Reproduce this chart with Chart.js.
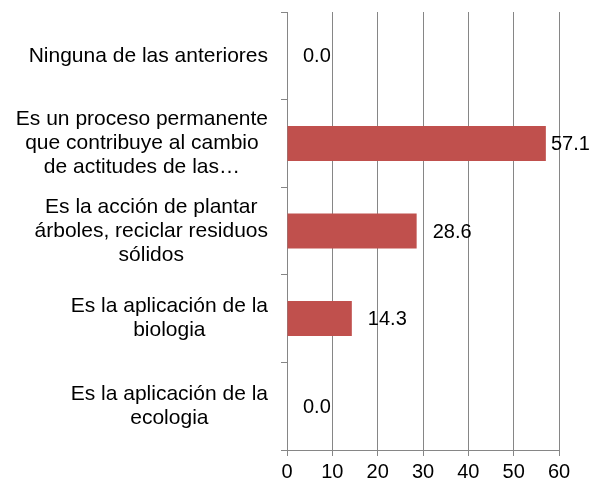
<!DOCTYPE html>
<html>
<head>
<meta charset="utf-8">
<script src="https://cdn.jsdelivr.net/npm/chart.js@4/dist/chart.umd.min.js"></script>
<style>
  html, body { margin: 0; padding: 0; background: #fff; }
  #wrap { width: 592px; height: 483px; }
</style>
</head>
<body>
<div id="wrap"><canvas id="chart"></canvas></div>
<script>
// Categories, top to bottom (wrapped as in the picture)
const categories = [
    ['Ninguna de las anteriores'],
    ['Es un proceso permanente', 'que contribuye al cambio', 'de actitudes de las…'],
    ['Es la acción de plantar', 'árboles, reciclar residuos', 'sólidos'],
    ['Es la aplicación de la', 'biologia'],
    ['Es la aplicación de la', 'ecologia']
];
const values = [0.0, 57.1, 28.6, 14.3, 0.0];
const xMin = 0;
const xMax = 60;
const xStep = 10;

const FONT = "'Liberation Sans', Arial, sans-serif";

// Draw the value labels next to each bar
const valueLabels = {
    id: 'valueLabels',
    afterDatasetsDraw(chart) {
        const ctx = chart.ctx;
        const meta = chart.getDatasetMeta(0);
        ctx.save();
        ctx.font = '20px ' + FONT;
        ctx.fillStyle = '#000';
        ctx.textAlign = 'left';
        ctx.textBaseline = 'middle';
        meta.data.forEach((bar, i) => {
            const x = Math.min(bar.x + 16, chart.width - 41);
            ctx.fillText(values[i].toFixed(1), x, bar.y + 1);
        });
        ctx.restore();
    }
};

// Category labels: each block centred on itself, right-aligned to the axis
const categoryLabels = {
    id: 'categoryLabels',
    afterDraw(chart) {
        const ctx = chart.ctx;
        const scale = chart.scales.y;
        const lineH = 24;
        ctx.save();
        ctx.font = '21px ' + FONT;
        ctx.fillStyle = '#000';
        ctx.textAlign = 'center';
        ctx.textBaseline = 'middle';
        categories.forEach((lines, i) => {
            const yc = scale.getPixelForTick(i);
            const widest = Math.max(...lines.map(l => ctx.measureText(l).width));
            const cx = scale.right - 19 - widest / 2;
            const y0 = yc - (lines.length - 1) * lineH / 2;
            lines.forEach((line, j) => ctx.fillText(line, cx, y0 + j * lineH));
        });
        ctx.restore();
    }
};

const config = {
    type: 'bar',
    data: {
        labels: categories,
        datasets: [{
            data: values,
            backgroundColor: '#C0504D',
            borderWidth: 0,
            barPercentage: 0.4,
            categoryPercentage: 1
        }]
    },
    options: {
        indexAxis: 'y',
        responsive: true,
        maintainAspectRatio: false,
        animation: false,
        layout: { padding: { top: 12, right: 33, bottom: 0, left: 0 } },
        plugins: {
            legend: { display: false },
            tooltip: { enabled: false }
        },
        scales: {
            x: {
                min: xMin,
                max: xMax,
                ticks: {
                    stepSize: xStep,
                    color: '#000',
                    padding: 4,
                    font: { family: FONT, size: 20 }
                },
                grid: { color: '#868686', lineWidth: 1, tickLength: 6 },
                border: { color: '#868686', width: 1 },
                afterFit(s) { s.height = 33; }
            },
            y: {
                ticks: { display: false },
                grid: { drawOnChartArea: false, color: '#868686', tickLength: 6, offset: true },
                border: { color: '#868686', width: 1 },
                afterFit(s) { s.width = 287; }
            }
        }
    },
    plugins: [valueLabels, categoryLabels]
};

window.onload = function() {
    const ctx = document.getElementById('chart').getContext('2d');
    window.barChart = new Chart(ctx, config);
};
</script>
</body>
</html>
